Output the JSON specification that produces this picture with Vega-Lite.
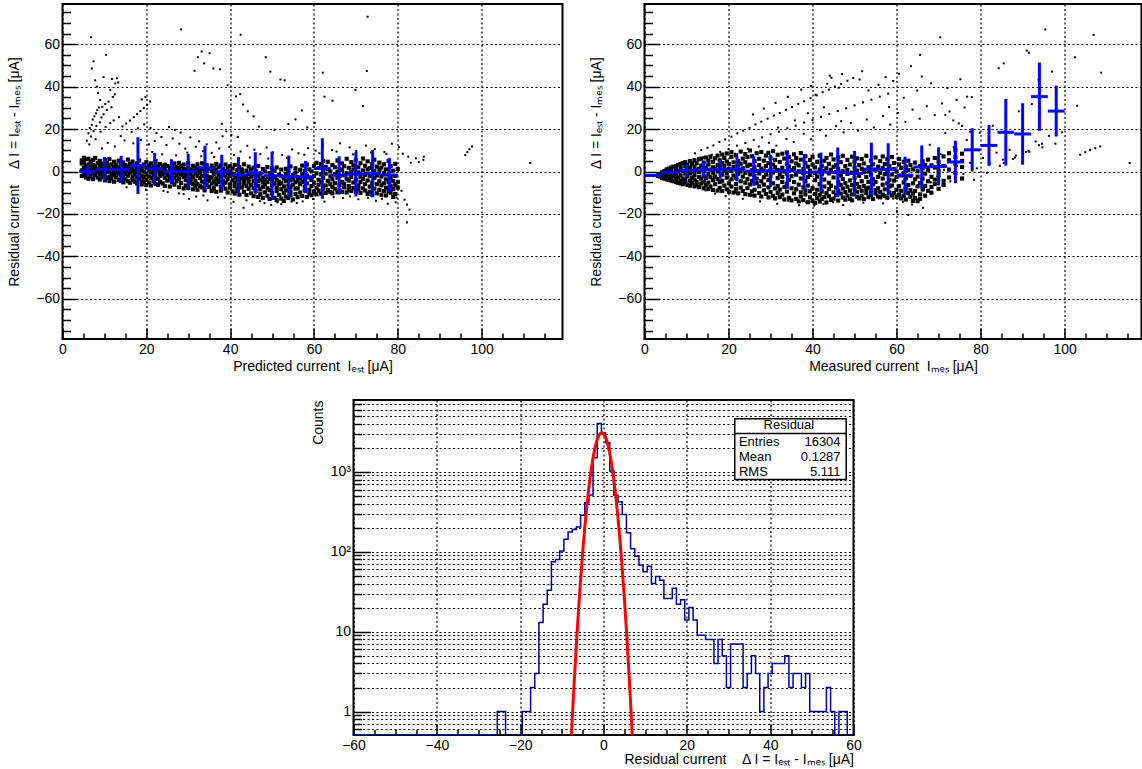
{
"$schema":"https://vega.github.io/schema/vega-lite/v6.json",
"padding":{"left":6.5,"top":3,"right":0,"bottom":0},
"config":{
"view":{"stroke":"black","strokeWidth":2},
"axis":{"labelFont":"Liberation Sans","labelFontSize":14,"labelColor":"#000","titleFont":"Liberation Sans","titleFontSize":14,"titleFontWeight":"normal","titleColor":"#000","domain":false,"tickColor":"#000","tickWidth":1.5,"gridColor":"#000","gridDash":[2,2.5],"gridWidth":1.2,"gridOpacity":1,"labelFlush":false,"labelOverlap":false},
"text":{"font":"Liberation Sans"}
},
"datasets":{
"tlCore":[
{"x":4.6,"y":0.5},{"x":4.6,"y":-2.1},{"x":4.6,"y":3.8},{"x":4.6,"y":5.2},
{"x":5.1,"y":-1.5},{"x":5.1,"y":1.8},{"x":5.1,"y":4.4},{"x":5.1,"y":-0.2},{"x":5.1,"y":6.5},
{"x":5.6,"y":2.6},{"x":5.6,"y":-2.8},{"x":5.6,"y":0.9},{"x":5.6,"y":5.8},
{"x":6.2,"y":-1.0},{"x":6.2,"y":3.3},{"x":6.2,"y":1.2},{"x":6.2,"y":-3.4},{"x":6.2,"y":6.0},
{"x":6.7,"y":0.2},{"x":6.7,"y":4.6},{"x":6.7,"y":-2.2},{"x":6.7,"y":2.0},
{"x":7.3,"y":-3.6},{"x":7.3,"y":1.4},{"x":7.3,"y":5.5},{"x":7.3,"y":-0.8},{"x":7.3,"y":3.0},
{"x":7.8,"y":2.4},{"x":7.8,"y":-1.7},{"x":7.8,"y":0.6},{"x":7.8,"y":6.4},
{"x":8.4,"y":-2.9},{"x":8.4,"y":4.1},{"x":8.4,"y":1.1},{"x":8.4,"y":-0.4},
{"x":8.9,"y":0.8},{"x":8.9,"y":-3.8},{"x":8.9,"y":2.9},{"x":8.9,"y":5.0},{"x":8.9,"y":-1.3},
{"x":9.5,"y":3.6},{"x":9.5,"y":-0.6},{"x":9.5,"y":1.7},{"x":9.5,"y":-2.6},
{"x":10.1,"y":-4.2},{"x":10.1,"y":0.3},{"x":10.1,"y":2.2},{"x":10.1,"y":5.4},{"x":10.1,"y":-1.9},
{"x":10.6,"y":1.5},{"x":10.6,"y":-3.1},{"x":10.6,"y":4.0},{"x":10.6,"y":-0.1},
{"x":11.2,"y":-2.4},{"x":11.2,"y":2.7},{"x":11.2,"y":0.0},{"x":11.2,"y":5.9},{"x":11.2,"y":-4.5},
{"x":11.7,"y":3.4},{"x":11.7,"y":-1.2},{"x":11.7,"y":0.9},{"x":11.7,"y":-3.3},
{"x":12.3,"y":0.4},{"x":12.3,"y":-4.8},{"x":12.3,"y":2.0},{"x":12.3,"y":4.6},{"x":12.3,"y":-1.6},
{"x":12.8,"y":-2.7},{"x":12.8,"y":1.2},{"x":12.8,"y":3.1},{"x":12.8,"y":-0.5},
{"x":13.4,"y":1.9},{"x":13.4,"y":-3.9},{"x":13.4,"y":-0.9},{"x":13.4,"y":5.1},{"x":13.4,"y":0.6},
{"x":13.9,"y":-1.8},{"x":13.9,"y":3.8},{"x":13.9,"y":-4.4},{"x":13.9,"y":0.2},
{"x":14.5,"y":2.5},{"x":14.5,"y":-0.3},{"x":14.5,"y":-2.9},{"x":14.5,"y":4.3},{"x":14.5,"y":-5.1},
{"x":15.0,"y":-1.1},{"x":15.0,"y":1.0},{"x":15.0,"y":3.0},{"x":15.0,"y":-3.6},
{"x":15.6,"y":0.7},{"x":15.6,"y":-4.6},{"x":15.6,"y":2.3},{"x":15.6,"y":-2.0},{"x":15.6,"y":5.6},
{"x":16.1,"y":-0.6},{"x":16.1,"y":3.5},{"x":16.1,"y":-5.3},{"x":16.1,"y":1.4},
{"x":16.7,"y":-2.5},{"x":16.7,"y":0.1},{"x":16.7,"y":4.7},{"x":16.7,"y":-3.9},{"x":16.7,"y":1.8},
{"x":17.2,"y":2.8},{"x":17.2,"y":-1.4},{"x":17.2,"y":-4.8},{"x":17.2,"y":0.4},
{"x":17.8,"y":-0.2},{"x":17.8,"y":-2.9},{"x":17.8,"y":3.9},{"x":17.8,"y":1.2},{"x":17.8,"y":-5.6},
{"x":18.3,"y":1.6},{"x":18.3,"y":-3.4},{"x":18.3,"y":-0.8},{"x":18.3,"y":5.2},
{"x":18.9,"y":-1.9},{"x":18.9,"y":2.4},{"x":18.9,"y":-4.2},{"x":18.9,"y":0.8},{"x":18.9,"y":-6.1},
{"x":19.4,"y":0.0},{"x":19.4,"y":3.3},{"x":19.4,"y":-2.6},{"x":19.4,"y":-5.0},
{"x":20.0,"y":-1.2},{"x":20.0,"y":1.9},{"x":20.0,"y":-3.8},{"x":20.0,"y":4.4},{"x":20.0,"y":-6.4},
{"x":20.6,"y":0.6},{"x":20.6,"y":-2.3},{"x":20.6,"y":2.7},{"x":20.6,"y":-5.2},
{"x":21.1,"y":-3.1},{"x":21.1,"y":-0.4},{"x":21.1,"y":3.8},{"x":21.1,"y":-6.6},{"x":21.1,"y":1.3},
{"x":21.7,"y":2.1},{"x":21.7,"y":-1.6},{"x":21.7,"y":-4.4},{"x":21.7,"y":0.3},
{"x":22.2,"y":-0.9},{"x":22.2,"y":-5.8},{"x":22.2,"y":1.6},{"x":22.2,"y":4.9},{"x":22.2,"y":-2.8},
{"x":22.8,"y":0.9},{"x":22.8,"y":-3.5},{"x":22.8,"y":-6.3},{"x":22.8,"y":2.9},
{"x":23.3,"y":-2.0},{"x":23.3,"y":1.1},{"x":23.3,"y":-4.9},{"x":23.3,"y":3.6},{"x":23.3,"y":-0.3},
{"x":23.9,"y":-1.3},{"x":23.9,"y":2.3},{"x":23.9,"y":-5.6},{"x":23.9,"y":0.4},
{"x":24.4,"y":-3.0},{"x":24.4,"y":0.0},{"x":24.4,"y":-6.8},{"x":24.4,"y":3.2},{"x":24.4,"y":1.5},
{"x":25.0,"y":-1.9},{"x":25.0,"y":2.6},{"x":25.0,"y":-4.3},{"x":25.0,"y":-0.7},
{"x":25.6,"y":0.5},{"x":25.6,"y":-3.7},{"x":25.6,"y":-7.1},{"x":25.6,"y":1.8},{"x":25.6,"y":-2.3},
{"x":26.1,"y":-5.0},{"x":26.1,"y":-1.0},{"x":26.1,"y":2.9},{"x":26.1,"y":0.2},
{"x":26.7,"y":-2.9},{"x":26.7,"y":1.3},{"x":26.7,"y":-6.2},{"x":26.7,"y":-0.4},{"x":26.7,"y":3.8},
{"x":27.2,"y":0.7},{"x":27.2,"y":-4.6},{"x":27.2,"y":-1.9},{"x":27.2,"y":2.2},
{"x":27.8,"y":-3.4},{"x":27.8,"y":-7.4},{"x":27.8,"y":1.6},{"x":27.8,"y":-0.9},{"x":27.8,"y":4.1},
{"x":28.3,"y":-1.5},{"x":28.3,"y":0.3},{"x":28.3,"y":-5.4},{"x":28.3,"y":2.6},
{"x":28.9,"y":-2.7},{"x":28.9,"y":-8.0},{"x":28.9,"y":1.2},{"x":28.9,"y":-0.6},{"x":28.9,"y":3.3},
{"x":29.4,"y":0.8},{"x":29.4,"y":-4.1},{"x":29.4,"y":-6.6},{"x":29.4,"y":-1.8},
{"x":30.0,"y":-3.2},{"x":30.0,"y":2.0},{"x":30.0,"y":-0.2},{"x":30.0,"y":-7.8},{"x":30.0,"y":4.0},
{"x":30.6,"y":-1.4},{"x":30.6,"y":-5.5},{"x":30.6,"y":1.0},{"x":30.6,"y":-3.6},
{"x":31.1,"y":0.3},{"x":31.1,"y":-2.5},{"x":31.1,"y":-8.4},{"x":31.1,"y":2.7},{"x":31.1,"y":-6.0},
{"x":31.7,"y":-4.3},{"x":31.7,"y":-0.8},{"x":31.7,"y":1.8},{"x":31.7,"y":-7.0},
{"x":32.2,"y":-2.0},{"x":32.2,"y":3.4},{"x":32.2,"y":-5.9},{"x":32.2,"y":0.1},{"x":32.2,"y":-8.6},
{"x":32.8,"y":-3.1},{"x":32.8,"y":-6.8},{"x":32.8,"y":1.5},{"x":32.8,"y":-0.5},
{"x":33.3,"y":0.9},{"x":33.3,"y":-4.7},{"x":33.3,"y":-2.2},{"x":33.3,"y":3.9},{"x":33.3,"y":-7.5},
{"x":33.9,"y":-1.2},{"x":33.9,"y":-8.9},{"x":33.9,"y":2.1},{"x":33.9,"y":-5.2},
{"x":34.4,"y":-3.5},{"x":34.4,"y":0.4},{"x":34.4,"y":-6.4},{"x":34.4,"y":3.0},{"x":34.4,"y":-1.9},
{"x":35.0,"y":-2.6},{"x":35.0,"y":-7.3},{"x":35.0,"y":1.3},{"x":35.0,"y":-4.4},
{"x":35.6,"y":0.2},{"x":35.6,"y":-5.7},{"x":35.6,"y":-9.2},{"x":35.6,"y":2.8},{"x":35.6,"y":-2.9},
{"x":36.1,"y":-4.8},{"x":36.1,"y":-1.3},{"x":36.1,"y":-7.9},{"x":36.1,"y":1.6},
{"x":36.7,"y":-3.3},{"x":36.7,"y":0.6},{"x":36.7,"y":-6.1},{"x":36.7,"y":-9.6},{"x":36.7,"y":3.6},
{"x":37.2,"y":-1.7},{"x":37.2,"y":-5.0},{"x":37.2,"y":2.0},{"x":37.2,"y":-3.9},
{"x":37.8,"y":-7.2},{"x":37.8,"y":-0.4},{"x":37.8,"y":-2.8},{"x":37.8,"y":2.9},{"x":37.8,"y":-9.0},
{"x":38.3,"y":-4.5},{"x":38.3,"y":1.1},{"x":38.3,"y":-6.5},{"x":38.3,"y":-1.6},
{"x":38.9,"y":-2.4},{"x":38.9,"y":-8.1},{"x":38.9,"y":0.3},{"x":38.9,"y":-5.3},{"x":38.9,"y":3.3},
{"x":39.4,"y":-3.7},{"x":39.4,"y":-9.9},{"x":39.4,"y":1.8},{"x":39.4,"y":-0.9},
{"x":40.0,"y":-6.0},{"x":40.0,"y":-2.1},{"x":40.0,"y":2.5},{"x":40.0,"y":-7.7},{"x":40.0,"y":0.0},
{"x":40.6,"y":-4.1},{"x":40.6,"y":-1.0},{"x":40.6,"y":-9.4},{"x":40.6,"y":1.4},
{"x":41.1,"y":-5.4},{"x":41.1,"y":-2.7},{"x":41.1,"y":-10.4},{"x":41.1,"y":3.1},{"x":41.1,"y":-7.0},
{"x":41.7,"y":0.6},{"x":41.7,"y":-3.6},{"x":41.7,"y":-8.6},{"x":41.7,"y":-1.5},
{"x":42.2,"y":-6.4},{"x":42.2,"y":-2.3},{"x":42.2,"y":2.0},{"x":42.2,"y":-10.9},{"x":42.2,"y":-4.7},
{"x":42.8,"y":-0.4},{"x":42.8,"y":-7.6},{"x":42.8,"y":-3.2},{"x":42.8,"y":1.0},
{"x":43.3,"y":-5.8},{"x":43.3,"y":-9.6},{"x":43.3,"y":-1.9},{"x":43.3,"y":3.4},{"x":43.3,"y":-4.0},
{"x":43.9,"y":-2.8},{"x":43.9,"y":-6.9},{"x":43.9,"y":0.4},{"x":43.9,"y":-11.1},
{"x":44.4,"y":-4.9},{"x":44.4,"y":-1.1},{"x":44.4,"y":-8.2},{"x":44.4,"y":2.3},{"x":44.4,"y":-3.5},
{"x":45.0,"y":-6.3},{"x":45.0,"y":-10.3},{"x":45.0,"y":-2.4},{"x":45.0,"y":0.9},
{"x":45.6,"y":-4.4},{"x":45.6,"y":-7.8},{"x":45.6,"y":1.8},{"x":45.6,"y":-1.4},{"x":45.6,"y":-11.6},
{"x":46.1,"y":-3.0},{"x":46.1,"y":-9.1},{"x":46.1,"y":-5.6},{"x":46.1,"y":0.2},
{"x":46.7,"y":-6.9},{"x":46.7,"y":-2.0},{"x":46.7,"y":-12.0},{"x":46.7,"y":2.6},{"x":46.7,"y":-4.6},
{"x":47.2,"y":-8.5},{"x":47.2,"y":-1.0},{"x":47.2,"y":-3.8},{"x":47.2,"y":-10.7},
{"x":47.8,"y":-5.2},{"x":47.8,"y":1.2},{"x":47.8,"y":-7.3},{"x":47.8,"y":-2.9},{"x":47.8,"y":-12.5},
{"x":48.3,"y":-4.0},{"x":48.3,"y":-9.8},{"x":48.3,"y":0.0},{"x":48.3,"y":-6.2},
{"x":48.9,"y":-2.5},{"x":48.9,"y":-11.4},{"x":48.9,"y":-7.9},{"x":48.9,"y":2.1},{"x":48.9,"y":-5.0},
{"x":49.4,"y":-8.8},{"x":49.4,"y":-3.4},{"x":49.4,"y":-13.0},{"x":49.4,"y":-0.7},
{"x":50.0,"y":-6.5},{"x":50.0,"y":-1.8},{"x":50.0,"y":-10.2},{"x":50.0,"y":1.5},{"x":50.0,"y":-4.3},
{"x":50.6,"y":-12.4},{"x":50.6,"y":-5.7},{"x":50.6,"y":-2.7},{"x":50.6,"y":0.4},
{"x":51.1,"y":-7.6},{"x":51.1,"y":-3.9},{"x":51.1,"y":-13.5},{"x":51.1,"y":-9.3},{"x":51.1,"y":1.9},
{"x":51.7,"y":-1.5},{"x":51.7,"y":-6.0},{"x":51.7,"y":-11.0},{"x":51.7,"y":-4.8},
{"x":52.2,"y":-8.4},{"x":52.2,"y":-2.2},{"x":52.2,"y":-12.8},{"x":52.2,"y":0.9},{"x":52.2,"y":-5.5},
{"x":52.8,"y":-3.3},{"x":52.8,"y":-10.0},{"x":52.8,"y":-7.0},{"x":52.8,"y":-13.9},
{"x":53.3,"y":-4.6},{"x":53.3,"y":1.3},{"x":53.3,"y":-8.9},{"x":53.3,"y":-11.8},{"x":53.3,"y":-1.0},
{"x":53.9,"y":-6.8},{"x":53.9,"y":-2.9},{"x":53.9,"y":-12.5},{"x":53.9,"y":0.0},
{"x":54.4,"y":-9.5},{"x":54.4,"y":-4.1},{"x":54.4,"y":-7.5},{"x":54.4,"y":2.4},{"x":54.4,"y":-11.2},
{"x":55.0,"y":-1.7},{"x":55.0,"y":-6.2},{"x":55.0,"y":-13.2},{"x":55.0,"y":-3.6},
{"x":55.6,"y":-8.1},{"x":55.6,"y":-0.5},{"x":55.6,"y":-10.6},{"x":55.6,"y":-5.1},{"x":55.6,"y":1.5},
{"x":56.1,"y":-4.3},{"x":56.1,"y":-12.1},{"x":56.1,"y":-2.6},{"x":56.1,"y":-7.9},
{"x":56.7,"y":-9.9},{"x":56.7,"y":0.8},{"x":56.7,"y":-6.0},{"x":56.7,"y":-3.0},
{"x":57.2,"y":-11.5},{"x":57.2,"y":-4.9},{"x":57.2,"y":-1.3},{"x":57.2,"y":2.8},
{"x":57.8,"y":-7.1},{"x":57.8,"y":-3.4},{"x":57.8,"y":-9.0},{"x":57.8,"y":0.3},
{"x":58.3,"y":-5.6},{"x":58.3,"y":-12.0},{"x":58.3,"y":-1.9},{"x":58.3,"y":3.3},
{"x":58.9,"y":-8.6},{"x":58.9,"y":-2.8},{"x":58.9,"y":-10.5},{"x":58.9,"y":1.0},
{"x":59.4,"y":-4.0},{"x":59.4,"y":-6.9},{"x":59.4,"y":0.1},{"x":59.4,"y":-11.2},
{"x":60.0,"y":-2.2},{"x":60.0,"y":-9.4},{"x":60.0,"y":2.6},{"x":60.0,"y":-5.3},
{"x":60.6,"y":-7.8},{"x":60.6,"y":-0.9},{"x":60.6,"y":-10.8},{"x":60.6,"y":4.1},
{"x":61.1,"y":-3.9},{"x":61.1,"y":-6.2},{"x":61.1,"y":1.7},{"x":61.1,"y":-9.0},
{"x":61.7,"y":-1.4},{"x":61.7,"y":-10.5},{"x":61.7,"y":-5.0},{"x":61.7,"y":3.5},
{"x":62.2,"y":-8.0},{"x":62.2,"y":0.5},{"x":62.2,"y":-3.1},{"x":62.2,"y":5.0},
{"x":62.8,"y":-6.6},{"x":62.8,"y":-10.1},{"x":62.8,"y":-1.0},{"x":62.8,"y":2.2},
{"x":63.3,"y":-4.4},{"x":63.3,"y":1.2},{"x":63.3,"y":-8.8},{"x":63.3,"y":4.6},
{"x":63.9,"y":-2.3},{"x":63.9,"y":-9.6},{"x":63.9,"y":-6.0},{"x":63.9,"y":0.0},
{"x":64.4,"y":-7.3},{"x":64.4,"y":3.1},{"x":64.4,"y":-3.7},{"x":64.4,"y":-10.3},
{"x":65.0,"y":-1.2},{"x":65.0,"y":-5.5},{"x":65.0,"y":2.0},{"x":65.0,"y":-8.2},
{"x":65.6,"y":-9.8},{"x":65.6,"y":-3.0},{"x":65.6,"y":5.2},{"x":65.6,"y":-0.3},
{"x":66.1,"y":-6.4},{"x":66.1,"y":1.1},{"x":66.1,"y":-8.9},{"x":66.1,"y":-2.0},
{"x":66.7,"y":-4.9},{"x":66.7,"y":3.8},{"x":66.7,"y":-9.6},{"x":66.7,"y":0.6},
{"x":67.2,"y":-7.5},{"x":67.2,"y":-1.8},{"x":67.2,"y":2.5},{"x":67.2,"y":-5.8},
{"x":67.8,"y":-3.4},{"x":67.8,"y":-9.9},{"x":67.8,"y":6.0},{"x":67.8,"y":-0.8},
{"x":68.3,"y":-6.9},{"x":68.3,"y":1.7},{"x":68.3,"y":-4.3},{"x":68.3,"y":-8.5},
{"x":68.9,"y":-2.6},{"x":68.9,"y":4.4},{"x":68.9,"y":-9.2},{"x":68.9,"y":-0.2},
{"x":69.4,"y":-5.2},{"x":69.4,"y":0.9},{"x":69.4,"y":-7.8},{"x":69.4,"y":2.9},
{"x":70.0,"y":-3.8},{"x":70.0,"y":-9.7},{"x":70.0,"y":5.3},{"x":70.0,"y":-1.1},
{"x":70.6,"y":-6.6},{"x":70.6,"y":2.0},{"x":70.6,"y":-8.4},{"x":70.6,"y":-0.4},
{"x":71.1,"y":-2.7},{"x":71.1,"y":-10.1},{"x":71.1,"y":3.9},{"x":71.1,"y":-5.0},
{"x":71.7,"y":-7.9},{"x":71.7,"y":0.5},{"x":71.7,"y":-3.5},{"x":71.7,"y":6.1},
{"x":72.2,"y":-1.6},{"x":72.2,"y":-9.0},{"x":72.2,"y":2.7},{"x":72.2,"y":-5.9},
{"x":72.8,"y":-4.2},{"x":72.8,"y":-10.6},{"x":72.8,"y":0.9},{"x":72.8,"y":4.8},
{"x":73.3,"y":-7.1},{"x":73.3,"y":-2.0},{"x":73.3,"y":-9.5},{"x":73.3,"y":1.6},
{"x":73.9,"y":-5.3},{"x":73.9,"y":3.5},{"x":73.9,"y":-0.9},{"x":73.9,"y":-10.9},
{"x":74.4,"y":-3.0},{"x":74.4,"y":-8.1},{"x":74.4,"y":5.6},{"x":74.4,"y":0.3},
{"x":75.0,"y":-6.0},{"x":75.0,"y":-1.9},{"x":75.0,"y":-10.3},{"x":75.0,"y":2.3},
{"x":75.6,"y":-8.7},{"x":75.6,"y":0.8},{"x":75.6,"y":-4.6},{"x":75.6,"y":4.2},
{"x":76.1,"y":-2.4},{"x":76.1,"y":-11.0},{"x":76.1,"y":1.9},{"x":76.1,"y":-6.5},
{"x":76.7,"y":-5.6},{"x":76.7,"y":-9.2},{"x":76.7,"y":3.4},{"x":76.7,"y":-0.6},
{"x":77.2,"y":-3.7},{"x":77.2,"y":-7.7},{"x":77.2,"y":1.0},{"x":77.2,"y":-11.3},
{"x":77.8,"y":-1.3},{"x":77.8,"y":-5.1},{"x":77.8,"y":5.0},{"x":77.8,"y":-9.4},
{"x":78.3,"y":-6.8},{"x":78.3,"y":-2.9},{"x":78.3,"y":2.6},{"x":78.3,"y":-10.0},
{"x":78.9,"y":-4.5},{"x":78.9,"y":0.4},{"x":78.9,"y":-8.3},{"x":78.9,"y":-12.0},
{"x":79.4,"y":-2.1},{"x":79.4,"y":-6.3},{"x":79.4,"y":3.6},{"x":79.4,"y":-10.6},
{"x":80.0,"y":-4.9},{"x":80.0,"y":1.2},{"x":80.0,"y":-7.6}
],
"tlSparse":[
{"x":6.8,"y":63.3},{"x":10.4,"y":55},{"x":7.4,"y":52},{"x":7,"y":48.6},{"x":7.8,"y":43},{"x":9.8,"y":44.5},{"x":11.8,"y":43.7},{"x":12.6,"y":41.6},{"x":11.4,"y":38.5},{"x":9,"y":33.7},{"x":13,"y":44},{"x":13.3,"y":42},{"x":8.2,"y":40},{"x":8.5,"y":37},{"x":9.5,"y":30.5},{"x":10.2,"y":31.8},{"x":11,"y":33},{"x":12,"y":35.2},{"x":12.5,"y":36.4},{"x":7.2,"y":24.5},{"x":7.6,"y":26},{"x":8,"y":27.4},{"x":8.3,"y":28.9},{"x":8.7,"y":30.2},{"x":10.6,"y":29},{"x":11.7,"y":30.3},{"x":6.5,"y":20.5},{"x":7,"y":22},{"x":6.2,"y":18},{"x":6.8,"y":16.5},{"x":7.4,"y":19},{"x":8.1,"y":21.5},{"x":8.9,"y":23.2},{"x":9.3,"y":25.5},{"x":9.8,"y":27},{"x":5.8,"y":14.5},{"x":6.4,"y":12.8},{"x":7.9,"y":15.2},{"x":9.1,"y":18.8},{"x":10.3,"y":21},{"x":11.4,"y":22.8},{"x":12.2,"y":24.1},{"x":13.5,"y":25.6},{"x":14.3,"y":21.3},{"x":15.2,"y":22.6},{"x":16.1,"y":24},{"x":17,"y":25.6},{"x":17.8,"y":27.1},{"x":18.6,"y":28.5},{"x":19.4,"y":29.9},{"x":20.2,"y":31.4},{"x":20.9,"y":33},{"x":19.8,"y":35.1},{"x":18.9,"y":34},{"x":16.5,"y":18.7},{"x":18,"y":20.4},{"x":19.5,"y":22.2},{"x":21,"y":20.5},{"x":22.4,"y":18.1},{"x":23.6,"y":16.3},{"x":14.8,"y":14.6},{"x":16.9,"y":13.3},{"x":18.7,"y":14.9},{"x":20.6,"y":12.8},{"x":12.5,"y":11.8},{"x":10.8,"y":13.5},{"x":9.4,"y":10.9},{"x":13.9,"y":16.7},{"x":22,"y":14.4},{"x":24.8,"y":12.5},{"x":26.3,"y":15.6},{"x":27.9,"y":13.1},{"x":25.4,"y":21},{"x":26.8,"y":19.6},{"x":28.2,"y":18.4},{"x":30.5,"y":16.1},{"x":32.6,"y":14.2},{"x":34.4,"y":12.8},{"x":29.3,"y":10.8},{"x":31.8,"y":11.7},{"x":33.5,"y":9.6},{"x":36.7,"y":13.7},{"x":38.2,"y":16.6},{"x":39.1,"y":18.9},{"x":40.3,"y":17.2},{"x":41.8,"y":16.3},{"x":37.4,"y":10.9},{"x":35.6,"y":8.8},{"x":39.8,"y":11.6},{"x":42.5,"y":9.4},{"x":44.1,"y":12.1},{"x":45.8,"y":10.3},{"x":47.2,"y":8.2},{"x":48.7,"y":11.3},{"x":50.2,"y":9},{"x":52.4,"y":7.8},{"x":54.8,"y":10.4},{"x":56.3,"y":8.6},{"x":58.6,"y":11},{"x":60.4,"y":9.8},{"x":62.1,"y":12.6},{"x":64.3,"y":10.1},{"x":66.2,"y":13.3},{"x":68.5,"y":11.4},{"x":70.1,"y":9.7},{"x":72.4,"y":12.2},{"x":74.5,"y":10.6},{"x":76.8,"y":9.2},{"x":78.6,"y":13.1},{"x":80.3,"y":11.5},{"x":81.2,"y":8.4},{"x":82.5,"y":7},{"x":84.3,"y":6.2},{"x":86.1,"y":5.5},{"x":83.1,"y":4.1},{"x":80.9,"y":-9.1},{"x":81.6,"y":-13.3},{"x":82.2,"y":-15.6},{"x":82.8,"y":-18},{"x":82.2,"y":-24},{"x":79.5,"y":-14.5},{"x":57.3,"y":-14.1},{"x":55.9,"y":-14.8},{"x":52.2,"y":-15.4},{"x":49.8,"y":-15.7},{"x":48.2,"y":-14.9},{"x":37.1,"y":-12.2},{"x":34.6,"y":-13.6},{"x":31.9,"y":-11.8},{"x":30.2,"y":-12.9},{"x":27.8,"y":-10.4},{"x":25.1,"y":-9.7},{"x":62.5,"y":-14.2},{"x":66.9,"y":-12.5},{"x":70.6,"y":-13.1},{"x":74.8,"y":-13.8},{"x":77.6,"y":-15.2},{"x":45.3,"y":-15.6},{"x":40.8,"y":-14.3},{"x":43.2,"y":-17.1},{"x":28.3,"y":67},{"x":33.2,"y":56.6},{"x":35.1,"y":55.8},{"x":32.3,"y":53.9},{"x":33.8,"y":51},{"x":36,"y":48.6},{"x":37.6,"y":48.2},{"x":31.5,"y":47.5},{"x":42.5,"y":64.5},{"x":48.5,"y":53.9},{"x":49.6,"y":47.1},{"x":52,"y":43.4},{"x":41.4,"y":35.4},{"x":42.4,"y":36.5},{"x":45.6,"y":26},{"x":44.2,"y":28.4},{"x":43.1,"y":31.6},{"x":72.8,"y":73},{"x":62.1,"y":46.6},{"x":72.6,"y":47.4},{"x":64.4,"y":33.4},{"x":71.7,"y":30.9},{"x":62.5,"y":35.3},{"x":69.9,"y":38.5},{"x":53,"y":43},{"x":96.1,"y":7.8},{"x":96.6,"y":9.2},{"x":97.1,"y":10.5},{"x":97.7,"y":11.8},{"x":111.6,"y":4},{"x":86.2,"y":7},{"x":85,"y":4.5},{"x":39.4,"y":40.7},{"x":38,"y":22.5},{"x":46.9,"y":21.2},{"x":50.6,"y":19.7},{"x":53.9,"y":22.4},{"x":58.4,"y":20.8},{"x":55.6,"y":24.6},{"x":60.2,"y":22.9},{"x":57.1,"y":28.8},
{"x":21.4,"y":9.2},{"x":23.8,"y":8.1},{"x":27.1,"y":7.6},{"x":29.8,"y":8.9},{"x":33.1,"y":7.2},{"x":36.2,"y":6.9},{"x":40.9,"y":7.8},{"x":44.7,"y":6.6},{"x":49.1,"y":6.1},{"x":53.6,"y":6.4},{"x":57.7,"y":7.9},{"x":61.3,"y":8.6},{"x":65.4,"y":9.4},{"x":69.3,"y":8.1},{"x":73.6,"y":9.0},{"x":77.3,"y":8.3},
{"x":15.3,"y":-7.4},{"x":19.9,"y":-8.6},{"x":24.1,"y":-9.1},{"x":28.9,"y":-10.6},{"x":33.6,"y":-11.3},{"x":38.7,"y":-12.4},{"x":43.9,"y":-13.6},{"x":47.1,"y":-14.0},{"x":51.3,"y":-14.6},{"x":54.6,"y":-14.2},{"x":59.8,"y":-13.0},{"x":64.7,"y":-12.1},{"x":68.6,"y":-11.7},{"x":72.9,"y":-12.4},{"x":76.2,"y":-12.9},{"x":79.7,"y":-12.3}
],
"tlProf":[
{"x":6,"y":0,"e":2.5,"w":2},{"x":10,"y":1.0,"e":5.8,"w":2},{"x":14,"y":1.0,"e":6.4,"w":2},{"x":18,"y":2.8,"e":13.4,"w":2},{"x":22,"y":1.2,"e":7.5,"w":2},{"x":26,"y":0,"e":5.8,"w":2},{"x":30,"y":0,"e":8.3,"w":2},{"x":34,"y":1.6,"e":10.6,"w":2},{"x":38,"y":-0.3,"e":8.2,"w":2},{"x":42,"y":-1.7,"e":8.5,"w":2},{"x":46,"y":-0.7,"e":9.8,"w":2},{"x":50,"y":-2.0,"e":11.4,"w":2},{"x":54,"y":-2.3,"e":9.8,"w":2},{"x":58,"y":-2.6,"e":7.6,"w":2},{"x":62,"y":1.4,"e":14.3,"w":2},{"x":66,"y":-1.8,"e":9,"w":2},{"x":70,"y":-1.2,"e":10.6,"w":2},{"x":74,"y":-1.0,"e":11.2,"w":2},{"x":78,"y":-1.7,"e":8.0,"w":2}
],
"trCore":[
{"x":3.2,"y":-2.1},{"x":3.2,"y":-1.8},
{"x":3.7,"y":-2.4},{"x":3.7,"y":-1.5},{"x":3.7,"y":-2.0},
{"x":4.2,"y":-2.8},{"x":4.2,"y":-1.2},{"x":4.2,"y":-0.4},{"x":4.2,"y":-3.1},
{"x":4.7,"y":-0.9},{"x":4.7,"y":-3.3},{"x":4.7,"y":0.2},{"x":4.7,"y":-2.2},
{"x":5.3,"y":0.6},{"x":5.3,"y":-3.7},{"x":5.3,"y":-1.6},{"x":5.3,"y":-2.9},{"x":5.3,"y":1.0},
{"x":5.8,"y":-0.3},{"x":5.8,"y":-4.0},{"x":5.8,"y":1.4},{"x":5.8,"y":-2.5},
{"x":6.4,"y":1.9},{"x":6.4,"y":-1.1},{"x":6.4,"y":-4.3},{"x":6.4,"y":-3.2},{"x":6.4,"y":0.5},
{"x":6.9,"y":-2.0},{"x":6.9,"y":2.3},{"x":6.9,"y":-4.6},{"x":6.9,"y":-0.6},
{"x":7.5,"y":0.9},{"x":7.5,"y":-3.6},{"x":7.5,"y":2.6},{"x":7.5,"y":-5.0},{"x":7.5,"y":-1.4},
{"x":8.0,"y":-2.8},{"x":8.0,"y":3.1},{"x":8.0,"y":-0.2},{"x":8.0,"y":-5.3},
{"x":8.6,"y":1.6},{"x":8.6,"y":-4.5},{"x":8.6,"y":-1.8},{"x":8.6,"y":3.5},{"x":8.6,"y":-5.6},
{"x":9.1,"y":-3.3},{"x":9.1,"y":0.3},{"x":9.1,"y":4.0},{"x":9.1,"y":-6.0},
{"x":9.7,"y":2.4},{"x":9.7,"y":-1.0},{"x":9.7,"y":-5.1},{"x":9.7,"y":4.4},{"x":9.7,"y":-3.9},
{"x":10.2,"y":-6.3},{"x":10.2,"y":0.8},{"x":10.2,"y":-2.3},{"x":10.2,"y":3.0},
{"x":10.8,"y":4.9},{"x":10.8,"y":-4.4},{"x":10.8,"y":1.7},{"x":10.8,"y":-0.8},{"x":10.8,"y":-6.7},
{"x":11.3,"y":-2.9},{"x":11.3,"y":3.6},{"x":11.3,"y":-5.5},{"x":11.3,"y":0.1},
{"x":11.9,"y":2.2},{"x":11.9,"y":-7.0},{"x":11.9,"y":5.3},{"x":11.9,"y":-1.6},{"x":11.9,"y":-3.8},
{"x":12.4,"y":-4.9},{"x":12.4,"y":0.6},{"x":12.4,"y":3.9},{"x":12.4,"y":-6.2},
{"x":13.0,"y":5.8},{"x":13.0,"y":-2.5},{"x":13.0,"y":-7.4},{"x":13.0,"y":1.3},{"x":13.0,"y":-0.2},
{"x":13.5,"y":-5.7},{"x":13.5,"y":2.8},{"x":13.5,"y":-3.4},{"x":13.5,"y":6.1},
{"x":14.1,"y":0.4},{"x":14.1,"y":-7.9},{"x":14.1,"y":4.2},{"x":14.1,"y":-1.9},{"x":14.1,"y":-4.8},
{"x":14.6,"y":6.6},{"x":14.6,"y":-6.4},{"x":14.6,"y":1.9},{"x":14.6,"y":-3.0},
{"x":15.2,"y":-1.1},{"x":15.2,"y":-8.3},{"x":15.2,"y":3.3},{"x":15.2,"y":5.2},{"x":15.2,"y":-5.2},
{"x":15.7,"y":0.9},{"x":15.7,"y":-2.7},{"x":15.7,"y":7.0},{"x":15.7,"y":-7.1},
{"x":16.3,"y":-4.1},{"x":16.3,"y":4.6},{"x":16.3,"y":-8.7},{"x":16.3,"y":2.0},{"x":16.3,"y":-0.6},
{"x":16.8,"y":6.2},{"x":16.8,"y":-6.0},{"x":16.8,"y":-2.3},{"x":16.8,"y":1.2},
{"x":17.4,"y":-9.0},{"x":17.4,"y":3.1},{"x":17.4,"y":-3.6},{"x":17.4,"y":7.5},{"x":17.4,"y":0.0},
{"x":17.9,"y":-5.0},{"x":17.9,"y":5.3},{"x":17.9,"y":-7.7},{"x":17.9,"y":1.8},
{"x":18.5,"y":-1.5},{"x":18.5,"y":8.0},{"x":18.5,"y":-9.2},{"x":18.5,"y":3.9},{"x":18.5,"y":-4.4},
{"x":19.0,"y":2.6},{"x":19.0,"y":-6.6},{"x":19.0,"y":0.4},{"x":19.0,"y":6.4},
{"x":19.6,"y":-8.4},{"x":19.6,"y":4.7},{"x":19.6,"y":-2.9},{"x":19.6,"y":8.5},{"x":19.6,"y":-0.9},
{"x":20.1,"y":1.3},{"x":20.1,"y":-5.6},{"x":20.1,"y":-9.6},{"x":20.1,"y":3.6},
{"x":20.7,"y":6.9},{"x":20.7,"y":-3.7},{"x":20.7,"y":-7.1},{"x":20.7,"y":0.2},{"x":20.7,"y":9.1},
{"x":21.2,"y":-1.9},{"x":21.2,"y":4.3},{"x":21.2,"y":-9.9},{"x":21.2,"y":2.1},
{"x":21.8,"y":-5.9},{"x":21.8,"y":7.6},{"x":21.8,"y":-3.0},{"x":21.8,"y":0.9},{"x":21.8,"y":-8.2},
{"x":22.3,"y":5.0},{"x":22.3,"y":-10.3},{"x":22.3,"y":2.8},{"x":22.3,"y":-1.1},
{"x":22.9,"y":-4.6},{"x":22.9,"y":9.4},{"x":22.9,"y":-7.6},{"x":22.9,"y":3.7},{"x":22.9,"y":0.0},
{"x":23.4,"y":-2.4},{"x":23.4,"y":6.1},{"x":23.4,"y":-9.2},{"x":23.4,"y":1.5},
{"x":24.0,"y":-10.7},{"x":24.0,"y":4.4},{"x":24.0,"y":-5.3},{"x":24.0,"y":8.2},{"x":24.0,"y":-0.6},
{"x":24.5,"y":2.5},{"x":24.5,"y":-7.9},{"x":24.5,"y":-3.6},{"x":24.5,"y":6.8},
{"x":25.1,"y":-1.4},{"x":25.1,"y":9.9},{"x":25.1,"y":-11.0},{"x":25.1,"y":3.2},{"x":25.1,"y":-6.1},
{"x":25.6,"y":0.6},{"x":25.6,"y":-4.4},{"x":25.6,"y":7.2},{"x":25.6,"y":-9.4},
{"x":26.2,"y":-8.6},{"x":26.2,"y":4.9},{"x":26.2,"y":-2.1},{"x":26.2,"y":-11.4},{"x":26.2,"y":1.9},
{"x":26.7,"y":8.6},{"x":26.7,"y":-5.5},{"x":26.7,"y":0.2},{"x":26.7,"y":-3.4},
{"x":27.3,"y":-10.2},{"x":27.3,"y":3.0},{"x":27.3,"y":-7.0},{"x":27.3,"y":6.0},{"x":27.3,"y":-0.9},
{"x":27.8,"y":1.4},{"x":27.8,"y":-11.8},{"x":27.8,"y":9.2},{"x":27.8,"y":-4.6},
{"x":28.4,"y":-2.7},{"x":28.4,"y":5.1},{"x":28.4,"y":-8.9},{"x":28.4,"y":0.5},{"x":28.4,"y":-6.2},
{"x":28.9,"y":7.5},{"x":28.9,"y":-10.6},{"x":28.9,"y":2.6},{"x":28.9,"y":-1.5},
{"x":29.5,"y":-12.2},{"x":29.5,"y":-4.0},{"x":29.5,"y":4.0},{"x":29.5,"y":-7.5},{"x":29.5,"y":8.8},
{"x":30.0,"y":0.9},{"x":30.0,"y":-9.7},{"x":30.0,"y":-2.0},{"x":30.0,"y":6.4},
{"x":30.6,"y":-5.6},{"x":30.6,"y":3.3},{"x":30.6,"y":-11.5},{"x":30.6,"y":-0.5},{"x":30.6,"y":9.6},
{"x":31.1,"y":2.0},{"x":31.1,"y":-8.0},{"x":31.1,"y":-12.7},{"x":31.1,"y":5.5},
{"x":31.7,"y":-3.1},{"x":31.7,"y":7.9},{"x":31.7,"y":-6.8},{"x":31.7,"y":0.7},{"x":31.7,"y":-10.1},
{"x":32.2,"y":4.5},{"x":32.2,"y":-1.3},{"x":32.2,"y":-12.1},{"x":32.2,"y":-8.5},
{"x":32.8,"y":-4.9},{"x":32.8,"y":1.8},{"x":32.8,"y":8.4},{"x":32.8,"y":-10.9},{"x":32.8,"y":-2.5},
{"x":33.3,"y":6.1},{"x":33.3,"y":-7.3},{"x":33.3,"y":-13.2},{"x":33.3,"y":0.0},
{"x":33.9,"y":-1.0},{"x":33.9,"y":3.5},{"x":33.9,"y":-9.5},{"x":33.9,"y":-5.8},{"x":33.9,"y":9.0},
{"x":34.4,"y":-12.4},{"x":34.4,"y":2.4},{"x":34.4,"y":-3.9},{"x":34.4,"y":6.9},
{"x":35.0,"y":-7.9},{"x":35.0,"y":0.6},{"x":35.0,"y":-13.6},{"x":35.0,"y":4.8},{"x":35.0,"y":-2.2},
{"x":35.6,"y":8.1},{"x":35.6,"y":-10.3},{"x":35.6,"y":-5.0},{"x":35.6,"y":1.6},
{"x":36.1,"y":-1.5},{"x":36.1,"y":-12.9},{"x":36.1,"y":3.8},{"x":36.1,"y":-8.4},{"x":36.1,"y":6.3},
{"x":36.7,"y":0.1},{"x":36.7,"y":-6.2},{"x":36.7,"y":-14.1},{"x":36.7,"y":2.9},
{"x":37.2,"y":-9.8},{"x":37.2,"y":5.6},{"x":37.2,"y":-3.3},{"x":37.2,"y":-11.8},{"x":37.2,"y":8.7},
{"x":37.8,"y":1.2},{"x":37.8,"y":-7.5},{"x":37.8,"y":-0.8},{"x":37.8,"y":-13.5},
{"x":38.3,"y":4.1},{"x":38.3,"y":-4.5},{"x":38.3,"y":-10.8},{"x":38.3,"y":7.2},{"x":38.3,"y":-8.9},
{"x":38.9,"y":-2.6},{"x":38.9,"y":2.3},{"x":38.9,"y":-14.5},{"x":38.9,"y":-6.6},
{"x":39.4,"y":-12.2},{"x":39.4,"y":0.4},{"x":39.4,"y":5.4},{"x":39.4,"y":-9.3},{"x":39.4,"y":-1.7},
{"x":40.0,"y":3.2},{"x":40.0,"y":-7.9},{"x":40.0,"y":-13.9},{"x":40.0,"y":6.9},
{"x":40.6,"y":-0.6},{"x":40.6,"y":-10.6},{"x":40.6,"y":-4.1},{"x":40.6,"y":1.9},{"x":40.6,"y":-14.8},
{"x":41.1,"y":4.6},{"x":41.1,"y":-8.6},{"x":41.1,"y":-12.6},{"x":41.1,"y":-2.4},
{"x":41.7,"y":-6.0},{"x":41.7,"y":0.9},{"x":41.7,"y":7.5},{"x":41.7,"y":-11.0},{"x":41.7,"y":-14.2},
{"x":42.2,"y":2.7},{"x":42.2,"y":-9.4},{"x":42.2,"y":-1.3},{"x":42.2,"y":-13.1},
{"x":42.8,"y":-7.1},{"x":42.8,"y":5.1},{"x":42.8,"y":-3.8},{"x":42.8,"y":-12.0},{"x":42.8,"y":0.3},
{"x":43.3,"y":-10.2},{"x":43.3,"y":1.5},{"x":43.3,"y":-14.6},{"x":43.3,"y":6.4},
{"x":43.9,"y":-5.3},{"x":43.9,"y":-8.3},{"x":43.9,"y":3.6},{"x":43.9,"y":-0.9},{"x":43.9,"y":-11.7},
{"x":44.4,"y":0.8},{"x":44.4,"y":-13.4},{"x":44.4,"y":-6.7},{"x":44.4,"y":8.0},
{"x":45.0,"y":-9.8},{"x":45.0,"y":2.2},{"x":45.0,"y":-2.8},{"x":45.0,"y":-12.8},{"x":45.0,"y":5.7},
{"x":45.6,"y":-7.6},{"x":45.6,"y":-0.3},{"x":45.6,"y":-11.1},{"x":45.6,"y":3.0},
{"x":46.1,"y":6.6},{"x":46.1,"y":-4.8},{"x":46.1,"y":-13.7},{"x":46.1,"y":-8.9},{"x":46.1,"y":1.2},
{"x":46.7,"y":-10.4},{"x":46.7,"y":4.4},{"x":46.7,"y":-1.9},{"x":46.7,"y":-6.3},
{"x":47.2,"y":-12.3},{"x":47.2,"y":0.1},{"x":47.2,"y":7.4},{"x":47.2,"y":-8.0},{"x":47.2,"y":-3.5},
{"x":47.8,"y":2.5},{"x":47.8,"y":-9.7},{"x":47.8,"y":-13.3},{"x":47.8,"y":-5.5},
{"x":48.3,"y":-1.1},{"x":48.3,"y":5.5},{"x":48.3,"y":-7.2},{"x":48.3,"y":-11.4},{"x":48.3,"y":0.7},
{"x":48.9,"y":-12.9},{"x":48.9,"y":3.3},{"x":48.9,"y":-4.2},{"x":48.9,"y":-9.0},
{"x":49.4,"y":7.0},{"x":49.4,"y":-6.4},{"x":49.4,"y":-0.5},{"x":49.4,"y":-10.8},{"x":49.4,"y":-13.6},
{"x":50.0,"y":1.9},{"x":50.0,"y":-8.3},{"x":50.0,"y":4.7},{"x":50.0,"y":-3.0},
{"x":50.6,"y":-11.9},{"x":50.6,"y":-5.9},{"x":50.6,"y":0.4},{"x":50.6,"y":-9.6},{"x":50.6,"y":6.2},
{"x":51.1,"y":-2.0},{"x":51.1,"y":3.0},{"x":51.1,"y":-12.7},{"x":51.1,"y":-7.3},
{"x":51.7,"y":-9.1},{"x":51.7,"y":5.9},{"x":51.7,"y":-4.6},{"x":51.7,"y":1.3},{"x":51.7,"y":-11.4},
{"x":52.2,"y":-6.8},{"x":52.2,"y":-0.3},{"x":52.2,"y":-13.0},{"x":52.2,"y":3.8},
{"x":52.8,"y":7.4},{"x":52.8,"y":-10.1},{"x":52.8,"y":-2.6},{"x":52.8,"y":-8.2},
{"x":53.3,"y":-4.9},{"x":53.3,"y":2.0},{"x":53.3,"y":-12.1},{"x":53.3,"y":0.0},{"x":53.3,"y":-7.6},
{"x":53.9,"y":5.2},{"x":53.9,"y":-9.5},{"x":53.9,"y":-1.6},{"x":53.9,"y":-11.0},
{"x":54.4,"y":-6.1},{"x":54.4,"y":3.4},{"x":54.4,"y":-12.9},{"x":54.4,"y":-3.7},
{"x":55.0,"y":0.8},{"x":55.0,"y":-8.7},{"x":55.0,"y":6.6},{"x":55.0,"y":-10.4},{"x":55.0,"y":-5.0},
{"x":55.6,"y":-2.5},{"x":55.6,"y":-11.8},{"x":55.6,"y":2.3},{"x":55.6,"y":-7.9},
{"x":56.1,"y":-9.6},{"x":56.1,"y":4.9},{"x":56.1,"y":-0.6},{"x":56.1,"y":-12.2},
{"x":56.7,"y":1.6},{"x":56.7,"y":-6.2},{"x":56.7,"y":-10.9},{"x":56.7,"y":7.1},{"x":56.7,"y":-3.3},
{"x":57.2,"y":-8.4},{"x":57.2,"y":-1.2},{"x":57.2,"y":3.5},{"x":57.2,"y":-11.6},
{"x":57.8,"y":0.2},{"x":57.8,"y":-12.4},{"x":57.8,"y":-5.6},{"x":57.8,"y":5.8},
{"x":58.3,"y":-9.9},{"x":58.3,"y":2.5},{"x":58.3,"y":-3.9},{"x":58.3,"y":-7.1},
{"x":58.9,"y":6.8},{"x":58.9,"y":-11.3},{"x":58.9,"y":-1.4},{"x":58.9,"y":-6.6},
{"x":59.4,"y":-4.3},{"x":59.4,"y":1.1},{"x":59.4,"y":-10.2},{"x":59.4,"y":4.0},
{"x":60.0,"y":-8.6},{"x":60.0,"y":-12.0},{"x":60.0,"y":0.0},{"x":60.0,"y":-2.6},
{"x":60.6,"y":3.3},{"x":60.6,"y":-6.9},{"x":60.6,"y":-10.9},{"x":60.6,"y":6.0},
{"x":61.1,"y":-1.9},{"x":61.1,"y":-9.1},{"x":61.1,"y":1.7},{"x":61.1,"y":-12.7},
{"x":61.7,"y":-5.1},{"x":61.7,"y":4.6},{"x":61.7,"y":-11.4},{"x":61.7,"y":-0.7},
{"x":62.2,"y":-8.1},{"x":62.2,"y":2.2},{"x":62.2,"y":-13.2},{"x":62.2,"y":-3.2},
{"x":62.8,"y":0.6},{"x":62.8,"y":-10.2},{"x":62.8,"y":5.1},{"x":62.8,"y":-6.4},
{"x":63.3,"y":-12.0},{"x":63.3,"y":-2.0},{"x":63.3,"y":-8.8},{"x":63.3,"y":3.0},
{"x":63.9,"y":-5.6},{"x":63.9,"y":1.0},{"x":63.9,"y":-13.9},{"x":63.9,"y":-10.5},
{"x":64.4,"y":-3.7},{"x":64.4,"y":-9.2},{"x":64.4,"y":4.2},{"x":64.4,"y":-12.5},
{"x":65.0,"y":-7.0},{"x":65.0,"y":0.1},{"x":65.0,"y":-14.0},{"x":65.0,"y":-2.4},
{"x":65.6,"y":2.6},{"x":65.6,"y":-10.8},{"x":65.6,"y":-5.4},{"x":65.6,"y":-12.9},
{"x":66.2,"y":-8.5},{"x":66.2,"y":1.5},{"x":66.2,"y":-3.3},{"x":66.2,"y":4.8},
{"x":66.8,"y":-11.4},{"x":66.8,"y":-1.0},{"x":66.8,"y":-6.8},{"x":66.8,"y":3.1},
{"x":67.5,"y":-4.6},{"x":67.5,"y":0.8},{"x":67.5,"y":-9.1},{"x":67.5,"y":5.6},
{"x":68.3,"y":-2.5},{"x":68.3,"y":-7.3},{"x":68.3,"y":2.9},{"x":68.3,"y":-10.0},
{"x":69.1,"y":-5.9},{"x":69.1,"y":1.9},{"x":69.1,"y":6.4},{"x":69.1,"y":-3.8},
{"x":70.0,"y":0.3},{"x":70.0,"y":-8.2},{"x":70.0,"y":4.5},{"x":70.0,"y":-1.7},
{"x":71.2,"y":-4.4},{"x":71.2,"y":2.6},{"x":71.2,"y":7.1},{"x":71.2,"y":-6.3},
{"x":72.5,"y":0.9},{"x":72.5,"y":5.3},{"x":72.5,"y":-2.8},{"x":72.5,"y":8.6},
{"x":74.0,"y":3.8},{"x":74.0,"y":-0.7},{"x":74.0,"y":6.9},{"x":74.0,"y":10.1},
{"x":75.6,"y":2.1},{"x":75.6,"y":8.4},{"x":75.6,"y":5.0},{"x":75.6,"y":-3.3}
],
"trSparse":[
{"x":12,"y":8.6},{"x":13.5,"y":10.1},{"x":15,"y":11.2},{"x":16.4,"y":12.3},{"x":17.8,"y":13.9},{"x":19.2,"y":15.1},{"x":20.7,"y":16.4},{"x":22.1,"y":18},{"x":23.5,"y":19.3},{"x":25,"y":20.6},{"x":26.4,"y":22.2},{"x":27.8,"y":23.5},{"x":29.3,"y":24.9},{"x":30.8,"y":26.4},{"x":32.2,"y":27.6},{"x":33.7,"y":29.1},{"x":35.1,"y":30.4},{"x":36.6,"y":31.9},{"x":38,"y":33.1},{"x":39.5,"y":34.6},{"x":41,"y":35.9},{"x":42.4,"y":37.4},{"x":43.9,"y":38.6},{"x":45.3,"y":40.1},{"x":46.8,"y":41.3},{"x":48.3,"y":42.8},{"x":49.7,"y":44.1},{"x":51.2,"y":43.4},{"x":47,"y":46},{"x":44.5,"y":44.2},{"x":14,"y":6.6},{"x":16,"y":7.9},{"x":18,"y":9.3},{"x":20,"y":10.6},{"x":22,"y":12.2},{"x":24,"y":13.4},{"x":26,"y":14.9},{"x":28,"y":16.1},{"x":30,"y":17.6},{"x":32,"y":18.8},{"x":34,"y":20.4},{"x":36,"y":21.6},{"x":38,"y":23.1},{"x":40,"y":24.3},{"x":42,"y":25.8},{"x":44,"y":27.1},{"x":46,"y":28.5},{"x":48,"y":29.8},{"x":50,"y":31.2},{"x":52,"y":32.6},{"x":54,"y":33.9},{"x":56,"y":35.3},{"x":58,"y":36.7},{"x":21.5,"y":8.4},{"x":24.6,"y":10.7},{"x":27.2,"y":11.8},{"x":29.6,"y":13.5},{"x":31.4,"y":12.2},{"x":33.8,"y":15.3},{"x":35.5,"y":13.9},{"x":37.9,"y":17.8},{"x":39.6,"y":15.2},{"x":41.8,"y":19.6},{"x":43.2,"y":16.9},{"x":45.6,"y":21.4},{"x":47.4,"y":18.5},{"x":49.1,"y":22.9},{"x":50.8,"y":19.3},{"x":52.9,"y":24.5},{"x":54.6,"y":20.8},{"x":56.8,"y":26.2},{"x":58.5,"y":22.1},{"x":60.3,"y":27.6},{"x":62.1,"y":23.4},{"x":63.8,"y":29.2},{"x":65.5,"y":24.9},{"x":67.2,"y":30.8},{"x":69.1,"y":26.6},{"x":70.8,"y":32.1},{"x":72.6,"y":28.3},{"x":74.3,"y":33.8},{"x":76.2,"y":30.2},{"x":77.9,"y":35.1},{"x":25.8,"y":26.9},{"x":28.4,"y":29.7},{"x":31.2,"y":32.4},{"x":34.1,"y":35.2},{"x":37.3,"y":38.6},{"x":40.7,"y":36.2},{"x":43.5,"y":41.4},{"x":46.2,"y":39.5},{"x":53.3,"y":38.2},{"x":55.7,"y":40.9},{"x":57.4,"y":44.5},{"x":59.2,"y":42.7},{"x":35.8,"y":24.1},{"x":38.9,"y":27.5},{"x":42.7,"y":30.3},{"x":31.8,"y":20.7},{"x":12,"y":-6.8},{"x":14.5,"y":-8.9},{"x":16.8,"y":-10.4},{"x":19.3,"y":-11.6},{"x":21.7,"y":-9.8},{"x":23.4,"y":-12.9},{"x":25.8,"y":-11.2},{"x":27.5,"y":-14.1},{"x":29.7,"y":-12.6},{"x":31.6,"y":-15.2},{"x":34.2,"y":-13.8},{"x":36.8,"y":-15.9},{"x":38.5,"y":-14.6},{"x":40.4,"y":-16.1},{"x":42.6,"y":-15.3},{"x":44.9,"y":-14.5},{"x":47.3,"y":-15.8},{"x":49.6,"y":-13.9},{"x":52.1,"y":-14.7},{"x":54.4,"y":-13.5},{"x":56.8,"y":-15.1},{"x":59.2,"y":-12.8},{"x":61.5,"y":-14.3},{"x":63.7,"y":-15.6},{"x":65.1,"y":-13.2},{"x":66.3,"y":-17.1},{"x":57.3,"y":-24.2},{"x":48.9,"y":-20.4},{"x":66.5,"y":-8.4},{"x":68.2,"y":-5.1},{"x":69.7,"y":-2.3},{"x":71.3,"y":0.8},{"x":72.8,"y":-4.6},{"x":74.4,"y":2.6},{"x":75.9,"y":-1.2},{"x":77.5,"y":4.1},{"x":79.1,"y":1.5},{"x":80.6,"y":6.4},{"x":82.2,"y":3.8},{"x":83.8,"y":8.9},{"x":85.3,"y":5.6},{"x":86.9,"y":10.2},{"x":88.4,"y":7.5},{"x":90,"y":12.6},{"x":91.6,"y":9.3},{"x":93.1,"y":14.2},{"x":94.7,"y":11.4},{"x":96.3,"y":16.8},{"x":97.8,"y":13.1},{"x":99.4,"y":18.5},{"x":70.5,"y":8.2},{"x":73.6,"y":11.5},{"x":76.7,"y":14.9},{"x":79.8,"y":18.3},{"x":82.9,"y":21.6},{"x":86,"y":25.2},{"x":89.1,"y":28.4},{"x":92.2,"y":31.8},{"x":78.4,"y":-3.9},{"x":81.5,"y":-0.6},{"x":84.6,"y":2.7},{"x":87.7,"y":5.9},{"x":90.8,"y":9.2},{"x":93.9,"y":12.4},{"x":67.9,"y":12.6},{"x":71.6,"y":18.1},{"x":74.8,"y":22.7},{"x":76.8,"y":35.3},{"x":75.2,"y":43.5},{"x":65.6,"y":55},{"x":66,"y":44.8},{"x":70.4,"y":63.3},{"x":84.3,"y":48.7},{"x":85.5,"y":51},{"x":91,"y":57},{"x":91.5,"y":56},{"x":95.4,"y":67},{"x":97,"y":47.1},{"x":93.8,"y":43.2},{"x":102.5,"y":53.9},{"x":106.9,"y":64.4},{"x":108.7,"y":46.6},{"x":103,"y":31},{"x":103.7,"y":7.9},{"x":104.9,"y":9.1},{"x":106.1,"y":10.2},{"x":107.3,"y":11},{"x":108.5,"y":11.8},{"x":115.5,"y":4},{"x":85.5,"y":4},{"x":88.2,"y":6.6},{"x":91.4,"y":9.8},{"x":94.6,"y":13.1},{"x":71.6,"y":26.7},{"x":73.5,"y":24.1},{"x":75.6,"y":21.5},{"x":77.5,"y":18.8},{"x":62.8,"y":-20.5},{"x":60.1,"y":-18.7},{"x":46.8,"y":23.7},{"x":44.1,"y":45.2},{"x":39.6,"y":40.3},{"x":51.8,"y":47.3},{"x":58.2,"y":30.4},{"x":61.7,"y":34.8},{"x":64.9,"y":38.2},{"x":60.6,"y":46.1},{"x":63.4,"y":49.7},{"x":68.2,"y":41.6},{"x":72.1,"y":39.4}
],
"trProf":[
{"x":2,"y":-1.9,"e":0.3,"w":2},{"x":6,"y":-0.4,"e":0.8,"w":2},{"x":10,"y":0.4,"e":3,"w":2},{"x":14,"y":0.8,"e":4,"w":2},{"x":18,"y":1.0,"e":4.4,"w":2},{"x":22,"y":1.1,"e":5.8,"w":2},{"x":26,"y":0.2,"e":7,"w":2},{"x":30,"y":0.3,"e":7.6,"w":2},{"x":34,"y":0.4,"e":8.6,"w":2},{"x":38,"y":-0.4,"e":8.6,"w":2},{"x":42,"y":-0.3,"e":9.2,"w":2},{"x":46,"y":-0.4,"e":11.7,"w":2},{"x":50,"y":-1.0,"e":10.7,"w":2},{"x":54,"y":1.1,"e":12.5,"w":2},{"x":58,"y":1.0,"e":12.3,"w":2},{"x":62,"y":-1.8,"e":8.8,"w":2},{"x":66,"y":2.1,"e":10.2,"w":2},{"x":70,"y":2.4,"e":9,"w":2},{"x":74,"y":4.5,"e":10,"w":2},{"x":78,"y":10.2,"e":10.2,"w":2},{"x":82,"y":12.3,"e":9.6,"w":2},{"x":86,"y":18.5,"e":15.7,"w":2},{"x":90,"y":17.7,"e":14.5,"w":2},{"x":94,"y":35.3,"e":16.1,"w":2},{"x":98,"y":28.5,"e":12,"w":2}
],
"hist":[
{"bin":-60,"n":0},{"bin":-59,"n":0},{"bin":-58,"n":0},{"bin":-57,"n":0},{"bin":-56,"n":0},{"bin":-55,"n":0},{"bin":-54,"n":0},{"bin":-53,"n":0},{"bin":-52,"n":0},{"bin":-51,"n":0},{"bin":-50,"n":0},{"bin":-49,"n":0},{"bin":-48,"n":0},{"bin":-47,"n":0},{"bin":-46,"n":0},{"bin":-45,"n":0},{"bin":-44,"n":0},{"bin":-43,"n":0},{"bin":-42,"n":0},{"bin":-41,"n":0},{"bin":-40,"n":0},{"bin":-39,"n":0},{"bin":-38,"n":0},{"bin":-37,"n":0},{"bin":-36,"n":0},{"bin":-35,"n":0},{"bin":-34,"n":0},{"bin":-33,"n":0},{"bin":-32,"n":0},{"bin":-31,"n":0},{"bin":-30,"n":0},{"bin":-29,"n":0},{"bin":-28,"n":0},{"bin":-27,"n":0},{"bin":-26,"n":0},{"bin":-25,"n":1},{"bin":-24,"n":1},{"bin":-23,"n":0},{"bin":-22,"n":0},{"bin":-21,"n":0},{"bin":-20,"n":0},{"bin":-19,"n":1},{"bin":-18,"n":1},{"bin":-17,"n":2},{"bin":-16,"n":3},{"bin":-15,"n":13},{"bin":-14,"n":22},{"bin":-13,"n":33},{"bin":-12,"n":75},{"bin":-11,"n":80},{"bin":-10,"n":102},{"bin":-9,"n":143},{"bin":-8,"n":176},{"bin":-7,"n":190},{"bin":-6,"n":204},{"bin":-5,"n":285},{"bin":-4,"n":410},{"bin":-3,"n":511},{"bin":-2,"n":1496},{"bin":-1,"n":4027},{"bin":0,"n":3073},{"bin":1,"n":2304},{"bin":2,"n":1020},{"bin":3,"n":507},{"bin":4,"n":418},{"bin":5,"n":293},{"bin":6,"n":173},{"bin":7,"n":109},{"bin":8,"n":88},{"bin":9,"n":68},{"bin":10,"n":56},{"bin":11,"n":66},{"bin":12,"n":40},{"bin":13,"n":49},{"bin":14,"n":44},{"bin":15,"n":26},{"bin":16,"n":26},{"bin":17,"n":35},{"bin":18,"n":22},{"bin":19,"n":25},{"bin":20,"n":14},{"bin":21,"n":20},{"bin":22,"n":14},{"bin":23,"n":9},{"bin":24,"n":9},{"bin":25,"n":8},{"bin":26,"n":8},{"bin":27,"n":4},{"bin":28,"n":8},{"bin":29,"n":5},{"bin":30,"n":2},{"bin":31,"n":7},{"bin":32,"n":7},{"bin":33,"n":7},{"bin":34,"n":2},{"bin":35,"n":3},{"bin":36,"n":5},{"bin":37,"n":3},{"bin":38,"n":1},{"bin":39,"n":2},{"bin":40,"n":3},{"bin":41,"n":4},{"bin":42,"n":4},{"bin":43,"n":4},{"bin":44,"n":5},{"bin":45,"n":2},{"bin":46,"n":3},{"bin":47,"n":3},{"bin":48,"n":2},{"bin":49,"n":3},{"bin":50,"n":1},{"bin":51,"n":1},{"bin":52,"n":1},{"bin":53,"n":1},{"bin":54,"n":2},{"bin":55,"n":1},{"bin":56,"n":0},{"bin":57,"n":1},{"bin":58,"n":1},{"bin":59,"n":0},{"bin":60,"n":0}
],
"fit":[
{"x":-7.7,"g":0.51},{"x":-7.5,"g":0.82},{"x":-7.0,"g":2.51},{"x":-6.5,"g":7.08},{"x":-6.0,"g":18.4},{"x":-5.5,"g":44.1},{"x":-5.0,"g":97.3},{"x":-4.5,"g":198},{"x":-4.0,"g":371},{"x":-3.5,"g":642},{"x":-3.0,"g":1022},{"x":-2.5,"g":1499},{"x":-2.0,"g":2028},{"x":-1.5,"g":2528},{"x":-1.0,"g":2904},{"x":-0.4,"g":3080},{"x":0.0,"g":3001},{"x":0.5,"g":2698},{"x":1.0,"g":2236},{"x":1.5,"g":1708},{"x":2.0,"g":1203},{"x":2.5,"g":780},{"x":3.0,"g":467},{"x":3.5,"g":257},{"x":4.0,"g":131},{"x":4.5,"g":61.1},{"x":5.0,"g":26.4},{"x":5.5,"g":10.5},{"x":6.0,"g":3.84},{"x":6.5,"g":1.30},{"x":6.9,"g":0.51}
],
"stats":[{"title":"Residual","names":["Entries","Mean","RMS"],"vals":["16304","0.1287","5.111"]}]
},
"vconcat":[
{
"hconcat":[
{
"width":500,"height":335,
"layer":[
{"data":{"name":"tlCore"},"mark":{"type":"square","size":17,"color":"black","opacity":1},
"encoding":{
"x":{"field":"x","type":"quantitative","scale":{"domain":[0,119.3],"nice":false,"zero":false},
"axis":{"orient":"bottom","values":[0,20,40,60,80,100],"tickSize":-11,"labelPadding":14,"grid":true,"title":"Predicted current\u00a0 Iₑₛₜ [μA]","titlePadding":3}},
"y":{"field":"y","type":"quantitative","scale":{"domain":[-79,79],"nice":false,"zero":false},
"axis":{"orient":"left","values":[-60,-40,-20,0,20,40,60],"tickSize":-15,"labelPadding":18,"grid":true,"title":"Residual current\u00a0\u00a0\u00a0 Δ I = Iₑₛₜ - Iₘₑₛ [μA]","titlePadding":14}}}},
{"data":{"name":"tlSparse"},"mark":{"type":"square","size":4,"color":"black","opacity":1},
"encoding":{
"x":{"field":"x","type":"quantitative","axis":{"orient":"bottom","values":[5,10,15,25,30,35,45,50,55,65,70,75,85,90,95,105,110,115],"tickSize":-6,"labels":false,"grid":false,"title":null}},
"y":{"field":"y","type":"quantitative","axis":{"orient":"left","values":[-75,-70,-65,-55,-50,-45,-35,-30,-25,-15,-10,-5,5,10,15,25,30,35,45,50,55,65,70,75],"tickSize":-8,"labels":false,"grid":false,"title":null}}}},
{"data":{"name":"tlProf"},"mark":{"type":"errorbar","color":"#0000ff","thickness":3},
"encoding":{"x":{"field":"x","type":"quantitative","axis":null},"y":{"field":"y","type":"quantitative","axis":null},"yError":{"field":"e"}}},
{"data":{"name":"tlProf"},"mark":{"type":"errorbar","color":"#0000ff","thickness":3},
"encoding":{"y":{"field":"y","type":"quantitative","axis":null},"x":{"field":"x","type":"quantitative","axis":null},"xError":{"field":"w"}}}
],
"resolve":{"axis":{"x":"independent","y":"independent"}}
},
{
"width":497,"height":335,
"layer":[
{"data":{"name":"trCore"},"mark":{"type":"square","size":17,"color":"black","opacity":1},
"encoding":{
"x":{"field":"x","type":"quantitative","scale":{"domain":[0,118.3],"nice":false,"zero":false},
"axis":{"orient":"bottom","values":[0,20,40,60,80,100],"tickSize":-11,"labelPadding":14,"grid":true,"title":"Measured current\u00a0 Iₘₑₛ [μA]","titlePadding":3}},
"y":{"field":"y","type":"quantitative","scale":{"domain":[-79,79],"nice":false,"zero":false},
"axis":{"orient":"left","values":[-60,-40,-20,0,20,40,60],"tickSize":-15,"labelPadding":18,"grid":true,"title":"Residual current\u00a0\u00a0\u00a0 Δ I = Iₑₛₜ - Iₘₑₛ [μA]","titlePadding":14}}}},
{"data":{"name":"trSparse"},"mark":{"type":"square","size":4,"color":"black","opacity":1},
"encoding":{
"x":{"field":"x","type":"quantitative","axis":{"orient":"bottom","values":[5,10,15,25,30,35,45,50,55,65,70,75,85,90,95,105,110,115],"tickSize":-6,"labels":false,"grid":false,"title":null}},
"y":{"field":"y","type":"quantitative","axis":{"orient":"left","values":[-75,-70,-65,-55,-50,-45,-35,-30,-25,-15,-10,-5,5,10,15,25,30,35,45,50,55,65,70,75],"tickSize":-8,"labels":false,"grid":false,"title":null}}}},
{"data":{"name":"trProf"},"mark":{"type":"errorbar","color":"#0000ff","thickness":3},
"encoding":{"x":{"field":"x","type":"quantitative","axis":null},"y":{"field":"y","type":"quantitative","axis":null},"yError":{"field":"e"}}},
{"data":{"name":"trProf"},"mark":{"type":"errorbar","color":"#0000ff","thickness":3},
"encoding":{"y":{"field":"y","type":"quantitative","axis":null},"x":{"field":"x","type":"quantitative","axis":null},"xError":{"field":"w"}}}
],
"resolve":{"axis":{"x":"independent","y":"independent"}}
}
],
"bounds":"flush",
"spacing":82
},
{
"hconcat":[
{
"width":281,"height":335,"view":{"stroke":null},
"data":{"values":[{}]},
"mark":{"type":"point","opacity":0}
},
{
"width":500,"height":335,
"layer":[
{"data":{"name":"hist"},"mark":{"type":"line","interpolate":"step","color":"#000099","strokeWidth":1.5,"invalid":"show","clip":true},
"encoding":{
"x":{"field":"bin","type":"quantitative","scale":{"domain":[-60,60],"nice":false,"zero":false},
"axis":{"orient":"bottom","values":[-60,-40,-20,0,20,40,60],"tickSize":-11,"labelPadding":14,"grid":true,"title":"Residual current\u00a0\u00a0\u00a0 Δ I = Iₑₛₜ - Iₘₑₛ [μA]","titleAnchor":"end","titlePadding":0}},
"y":{"field":"n","type":"quantitative","scale":{"type":"log","domain":[0.51,7900],"nice":false,"clamp":true},
"axis":{"orient":"left","values":[1,10,100,1000],"tickSize":-17,"labelPadding":20,"grid":true,"title":"Counts","titleAnchor":"end","titlePadding":5,
"labelExpr":"datum.value == 1 ? '1' : datum.value == 10 ? '10' : datum.value == 100 ? '10²' : '10³'"}}}},
{"data":{"name":"fit"},"mark":{"type":"line","interpolate":"monotone","color":"#ff0000","strokeWidth":3,"clip":true},
"encoding":{
"x":{"field":"x","type":"quantitative","axis":{"orient":"bottom","values":[-55,-50,-45,-35,-30,-25,-15,-10,-5,5,10,15,25,30,35,45,50,55],"tickSize":-5.5,"labels":false,"grid":false,"title":null}},
"y":{"field":"g","type":"quantitative","axis":{"orient":"left","values":[0.6,0.7,0.8,0.9,2,3,4,5,6,7,8,9,20,30,40,50,60,70,80,90,200,300,400,500,600,700,800,900,2000,3000,4000,5000,6000,7000],"tickSize":-8,"labels":false,"grid":true,"title":null}}}},
{"data":{"name":"stats"},"mark":{"type":"rect","fill":"white","stroke":"black","strokeWidth":1.5},
"encoding":{"x":{"datum":31.5,"type":"quantitative","axis":null},"x2":{"datum":58.25},"y":{"datum":4597,"type":"quantitative","axis":null},"y2":{"datum":803}}},
{"data":{"name":"stats"},"mark":{"type":"rule","color":"black","strokeWidth":1.5},
"encoding":{"x":{"datum":31.5,"type":"quantitative","axis":null},"x2":{"datum":58.25},"y":{"datum":3020,"type":"quantitative","axis":null}}},
{"data":{"name":"stats"},"mark":{"type":"text","fontSize":13,"align":"center","baseline":"middle","color":"black"},
"encoding":{"x":{"datum":44.5,"type":"quantitative","axis":null},"y":{"datum":3836,"type":"quantitative","axis":null},"text":{"field":"title"}}},
{"data":{"name":"stats"},"mark":{"type":"text","fontSize":13,"align":"left","baseline":"middle","lineHeight":15.2,"color":"black"},
"encoding":{"x":{"datum":32.5,"type":"quantitative","axis":null},"y":{"datum":2371,"type":"quantitative","axis":null},"text":{"field":"names"}}},
{"data":{"name":"stats"},"mark":{"type":"text","fontSize":13,"align":"right","baseline":"middle","lineHeight":15.2,"color":"black"},
"encoding":{"x":{"datum":56.9,"type":"quantitative","axis":null},"y":{"datum":2371,"type":"quantitative","axis":null},"text":{"field":"vals"}}}
],
"resolve":{"axis":{"x":"independent","y":"independent"}}
}
],
"bounds":"flush",
"spacing":10
}
],
"spacing":24
}
